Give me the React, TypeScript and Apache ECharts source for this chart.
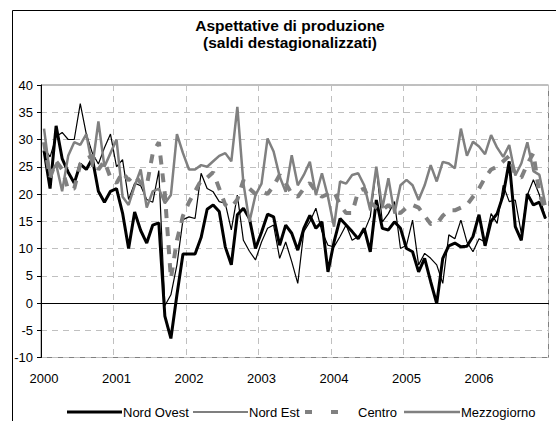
import React, { useEffect, useRef } from "react";
import * as echarts from "echarts";

const years = ["2000", "2001", "2002", "2003", "2004", "2005", "2006"];
const months = years.flatMap((y) =>
  ["01", "02", "03", "04", "05", "06", "07", "08", "09", "10", "11", "12"].map((m) => `${y}-${m}`)
);

const nordOvest = [
  28, 21, 32.5, 26.5, 24, 22, 25.5, 24.5, 26.5, 20.5, 18.5, 20.5,
  21, 16.5, 10, 16.7, 13.3, 11, 14.3, 14.7, -2.4, -6.5, 1.5, 9,
  9, 9, 12, 17.2, 18, 16.8, 10.3, 7, 16.2, 17.4, 15.5, 10,
  13, 16.3, 15.8, 10.6, 14.3, 12.8, 9.7, 13.7, 16.1, 13.7, 14.9, 5.7,
  11.2, 15.5, 14.3, 13.1, 11.8, 13.7, 9.4, 18.9, 13.7, 13.4, 14.9, 13.7,
  10, 9.4, 5.7, 8.2, 3.9, -0.1, 8.2, 10.5, 11, 10.3, 10.4, 12.2,
  16.2, 10.5, 15, 16.4, 19.8, 26, 14, 11.5, 20, 18, 18.5, 15.5,
];

const nordEst = [
  28.5, 26.8, 30.5, 31.3, 30, 30, 36.6, 31, 27.5, 25.5, 28.5, 31,
  25, 26.3, 19, 22, 21.5, 19, 18.5, 24.3, -0.5, 1.5, 7, 15.3,
  15.8, 15.5, 23.8, 21, 20.4, 18.6, 18.3, 13.4, 19.8, 11.5, 9.5, 7.9,
  11.2, 13.7, 14.3, 8.2, 11.2, 7.6, 3.6, 13.1, 14.9, 17.4, 13.1, 10.6,
  10.3, 12.2, 14.3, 11.5, 12.2, 13.1, 15.8, 24.7, 14.9, 16.4, 18.6, 10,
  10.6, 15.2, 7, 9.1, 8.2, 7, 3.6, 12.5, 11.8, 15.2, 11.2, 9.4,
  11.8, 11.2, 16.4, 14.6, 21.6, 18.6, 18.9, 12.8, 19.8, 22.6, 19.8, 15.5,
];

const centro = [
  29.5, 23, 26, 24.5, 20.8, 21, 25.5, 26.5, 27, 24.5, 26, 23,
  22, 24, 22.5, 23.5, 22, 21.5, 27.5, 29.5, 20, 4.5, 11.5, 16,
  18.5, 20.5, 22.5, 23, 24, 21, 18, 17.5, 19, 22.5, 21, 20,
  20.5, 20, 21.5, 23.5, 22, 20, 19.5, 21, 22, 20.5, 19.5, 20,
  20.5, 18, 16.5, 16.5, 20.5, 21, 18.5, 17.5, 17, 18, 16.8, 16.5,
  17.5, 18, 17.5, 16, 14.5, 14.5, 16, 17, 17, 17.5, 18, 19.5,
  21, 23, 24.5, 25, 26, 27, 23.5, 23, 25.5, 27.5, 20, 17,
];

const mezzogiorno = [
  32, 23.5, 25.5, 20.5, 27, 29.5, 29, 31, 25, 33.3, 25, 27.5,
  30, 19.5, 18, 21.5, 24.5, 17.5, 20.5, 21, 18.3, 19.8, 31, 27.5,
  24.5, 24.5, 25.3, 25, 26, 27, 27.5, 26, 36, 22, 14.9, 19.8,
  21.9, 30.2, 27.8, 23.2, 20.4, 27.1, 21.6, 23.5, 25.9, 19.8, 23.8, 19.5,
  14, 22.3, 21.9, 23.5, 23.8, 21.6, 17, 25, 17.4, 22.9, 16.4, 21.6,
  22.6, 21.6, 18.9, 21.6, 25.3, 22.3, 25.9, 25.6, 24.7, 32, 27, 29.6,
  28.7, 27.3, 30.8, 28.5, 26.8, 29, 23.4, 25.6, 29.5, 24.2, 23.5, 18,
];

const titleLines = ["Aspettative di produzione", "(saldi destagionalizzati)"];
const seriesNames = ["Nord Ovest", "Nord Est", "Centro", "Mezzogiorno"];
const FONT = '"Liberation Sans", Arial, sans-serif';

const lineStyles: any[] = [
  { color: "#000", width: 3 },
  { color: "#000", width: 1.2 },
  { color: "#808080", width: 4, type: [9, 9] },
  { color: "#808080", width: 2.5 },
];
const legendX = [
  [67, 122],
  [193, 248],
  [305, 357],
  [404, 460],
];
const LEGEND_Y = 412;

export default function App() {
  const ref = useRef<HTMLDivElement>(null);
  useEffect(() => {
    if (!ref.current) return;
    const chart = echarts.init(ref.current, undefined, { renderer: "svg" });
    const legendGraphics: any[] = [];
    seriesNames.forEach((name, k) => {
      const [x1, x2] = legendX[k];
      const ls = lineStyles[k];
      legendGraphics.push({
        type: "line",
        shape: { x1, y1: LEGEND_Y, x2, y2: LEGEND_Y },
        style: {
          stroke: ls.color,
          lineWidth: ls.width,
          lineDash: k === 2 ? [7, 19] : null,
        },
      });
      legendGraphics.push({
        type: "text",
        x: x2 + 1,
        y: LEGEND_Y,
        style: {
          text: name,
          font: `13px ${FONT}`,
          fill: "#000",
          align: "left",
          verticalAlign: "middle",
          textAlign: "left",
          textVerticalAlign: "middle",
        },
      });
    });
    chart.setOption({
      animation: false,
      backgroundColor: "#ffffff",
      textStyle: { fontFamily: FONT },
      graphic: [
        {
          type: "rect",
          shape: { x: 12.5, y: 10.5, width: 600, height: 500 },
          style: { fill: "none", stroke: "#000", lineWidth: 1 },
          z: 0,
        },
        ...titleLines.map((t, k) => ({
          type: "text",
          x: 290,
          y: 25 + k * 17,
          style: {
            text: t,
            font: `bold 15.5px ${FONT}`,
            fill: "#000",
            align: "center",
            verticalAlign: "middle",
            textAlign: "center",
            textVerticalAlign: "middle",
          },
        })),
        ...legendGraphics,
      ],
      grid: {
        left: 41,
        right: 7.5,
        top: 85,
        bottom: 63.5,
        show: true,
        borderColor: "#808080",
        borderWidth: 1,
        backgroundColor: "transparent",
      },
      xAxis: {
        type: "category",
        data: months,
        boundaryGap: true,
        axisLine: { lineStyle: { color: "#000", width: 1 } },
        axisTick: { show: false },
        axisLabel: {
          interval: 11,
          margin: 14,
          fontSize: 13,
          fontFamily: FONT,
          color: "#000",
          formatter: (v: string) => v.slice(0, 4),
        },
        splitLine: {
          show: true,
          interval: 11,
          lineStyle: { color: "#c0c0c0", type: [6, 5], width: 1 },
        },
      },
      yAxis: {
        type: "value",
        min: -10,
        max: 40,
        interval: 5,
        axisLine: { show: true, lineStyle: { color: "#000", width: 1 } },
        axisTick: { show: true, length: 4, lineStyle: { color: "#000" } },
        axisLabel: { margin: 8, fontSize: 13, fontFamily: FONT, color: "#000" },
        splitLine: { lineStyle: { color: "#c0c0c0", type: [6, 5], width: 1 } },
      },
      series: [
        { name: seriesNames[0], data: nordOvest },
        { name: seriesNames[1], data: nordEst },
        { name: seriesNames[2], data: centro },
        { name: seriesNames[3], data: mezzogiorno },
      ].map((s, k) => ({
        ...s,
        type: "line",
        symbol: "none",
        lineStyle: lineStyles[k],
        itemStyle: { color: lineStyles[k].color },
      })),
    });
    return () => chart.dispose();
  }, []);
  return (
    <div
      ref={ref}
      style={{ position: "fixed", left: 0, top: 0, width: 556, height: 421 }}
    />
  );
}
